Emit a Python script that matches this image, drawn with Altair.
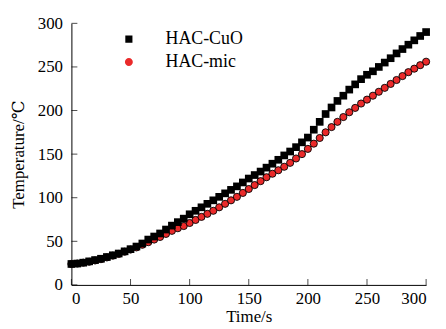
import altair as alt
import pandas as pd

time_s = list(range(0, 301, 5))
hac_cuo = [24, 24.5, 25.5, 27, 28.5, 30, 32, 34, 36, 38.5,
           41, 44, 47.5, 52, 55.5, 59, 63.5, 68, 72, 76,
           81, 85, 89, 93, 97, 101, 105, 109, 113, 117.5,
           122, 126, 130, 134.5, 139, 143.5, 148.5, 153, 158, 163.5,
           169, 178, 187, 196, 203.5, 211, 217, 224, 230, 236,
           241, 245, 250, 255, 260, 265.5, 270.5, 275.5, 280.5, 285.5,
           290]
hac_mic = [24, 24.5, 25.5, 26.5, 28, 29.5, 31.5, 33.5, 35.5, 38,
           40.5, 43, 46, 49, 52, 55, 58.5, 62, 65, 67.5,
           71, 74.5, 78, 81.5, 85, 89, 93, 97, 101, 105.5,
           110, 114.5, 119, 123.5, 127.5, 131.5, 135.5, 140, 145, 150,
           156, 162, 168.5, 175, 181, 187, 192.5, 198, 203, 208,
           212.5, 217, 221.5, 226, 230.5, 235, 239.5, 244, 248, 252,
           256]
series_names = ["HAC-CuO", "HAC-mic"]
x_ticks = [0, 50, 100, 150, 200, 250, 300]
y_ticks = [0, 50, 100, 150, 200, 250, 300]

df = pd.DataFrame({
    "t": time_s * 2,
    "v": hac_cuo + hac_mic,
    "s": [series_names[0]] * len(time_s) + [series_names[1]] * len(time_s),
})

FONT = "Liberation Serif, Times New Roman, DejaVu Serif, serif"
RED = "#ea2a2a"
xs = alt.Scale(domain=[0, 300], nice=False)
ys = alt.Scale(domain=[0, 300], nice=False)

xaxis = alt.Axis(values=x_ticks, title="Time/s", ticks=False, tickSize=0, grid=False,
                 labelPadding=6, titlePadding=2, domainColor="black")
yaxis = alt.Axis(values=y_ticks, title="Temperature/℃", ticks=False, tickSize=0, grid=False,
                 labelPadding=9, titlePadding=10, domainColor="black")

base = alt.Chart(df)

line = base.mark_line(color="black", strokeWidth=1).encode(
    x=alt.X("t:Q", scale=xs, axis=xaxis),
    y=alt.Y("v:Q", scale=ys, axis=yaxis),
    detail="s:N",
)

squares = base.transform_filter(alt.datum.s == series_names[0]).mark_square(
    color="black", size=60, opacity=1
).encode(x="t:Q", y="v:Q")

circles = base.transform_filter(alt.datum.s == series_names[1]).mark_circle(
    fill=RED, stroke="black", strokeWidth=0.9, size=52, opacity=1
).encode(x="t:Q", y="v:Q")

sq = "M-5.5,0H-0.9M0.9,0H5.5M-0.9,-0.9H0.9V0.9H-0.9Z"
ci = "M-5.5,0H-1M1,0H5.5M-1,0A1,1 0 1,0 1,0A1,1 0 1,0 -1,0Z"

legend_layer = base.transform_filter(alt.datum.t < 0).mark_point(
    filled=True, stroke="black", strokeWidth=1, size=64, opacity=1
).encode(
    x="t:Q",
    y="v:Q",
    shape=alt.Shape("s:N", scale=alt.Scale(domain=series_names, range=[sq, ci]),
                    legend=alt.Legend(title=None)),
    fill=alt.Fill("s:N", scale=alt.Scale(domain=series_names, range=["black", RED]),
                  legend=alt.Legend(title=None)),
)

xt = alt.Chart(pd.DataFrame({"xt": x_ticks})).mark_tick(
    orient="vertical", size=6, thickness=1, color="black", yOffset=-3
).encode(x=alt.X("xt:Q", scale=xs), y=alt.datum(0))

yt = alt.Chart(pd.DataFrame({"yt": y_ticks})).mark_tick(
    orient="horizontal", size=6, thickness=1, color="black", xOffset=3
).encode(y=alt.Y("yt:Q", scale=ys), x=alt.datum(0))

chart = alt.layer(line, xt, yt, circles, squares, legend_layer).properties(
    width=358, height=264,
    autosize=alt.AutoSizeParams(type="none"),
    padding={"left": 64, "top": 14, "right": 12, "bottom": 40},
).configure_view(stroke=None).configure_axis(
    labelFont=FONT, titleFont=FONT, labelFontSize=17, titleFontSize=17,
    labelColor="black", titleColor="black", titleFontWeight="normal",
    domainWidth=1,
).configure_legend(
    orient="none", legendX=49, legendY=7,
    labelFont=FONT, labelFontSize=18, labelColor="black",
    symbolSize=64, symbolStrokeWidth=1, symbolStrokeColor="black",
    symbolOpacity=1, labelOffset=28, rowPadding=5, padding=0,
)

chart.save("out.html", embed_options={"renderer": "svg", "actions": False})
